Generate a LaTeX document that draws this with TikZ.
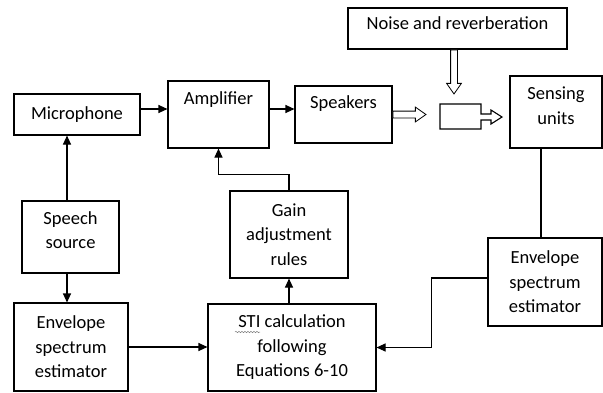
\documentclass[tikz,border=0pt]{standalone}
\usepackage{fontspec}
\setmainfont{Carlito}
\usetikzlibrary{shapes.arrows}
\usetikzlibrary{arrows.meta}
\usetikzlibrary{decorations.pathmorphing}

\newcommand{\lift}[2]{\raisebox{#1}[\height][\depth]{\begin{tabular}{@{}c@{}}#2\end{tabular}}}

\begin{document}
\begin{tikzpicture}[
x=1pt, y=-1pt,
font=\fontsize{18.5pt}{24.5pt}\selectfont,
blk/.style={
draw,
line width=1.1pt,
inner sep=0pt,
align=center
},
conn/.style={
line width=1.1pt,
-{Triangle[length=9pt,width=8pt]}
},
hollow/.style={
draw,
single arrow,
fill=white,
line width=0.8pt,
inner sep=3pt,
single arrow head extend=4pt,
single arrow tip angle=70,
anchor=tail
}
]

\useasboundingbox (0,0) rectangle (603,392);

% top row
\node[blk, minimum width=219pt, minimum height=41pt] (noise) at (457.5,28.5) {\lift{3.5pt}{Noise and reverberation}};
\node[blk, minimum width=126pt, minimum height=41pt] (mic) at (77,114.5) {Microphone};
\node[blk, minimum width=101pt, minimum height=67pt] (amp) at (218.5,114.5) {\lift{14.5pt}{Amplifier}};
\node[blk, minimum width=97pt, minimum height=57pt] (spk) at (343.5,114.5) {\lift{10.5pt}{Speakers}};
\node[blk, minimum width=92pt, minimum height=72pt] (sens) at (556,112) {\lift{5pt}{Sensing\\units}};

% lower rows
\node[blk, minimum width=97pt, minimum height=72pt] (src) at (70.5,237) {\lift{5.5pt}{Speech\\source}};
\node[blk, minimum width=118pt, minimum height=87pt] (gain) at (289,234.5) {Gain\\adjustment\\rules};
\node[blk, minimum width=114pt, minimum height=88pt] (envl) at (71,347) {Envelope\\spectrum\\estimator};
\node[blk, minimum width=168pt, minimum height=87pt] (sti) at (292,347.5) {STI calculation\\following\\Equations 6-10};
\node[blk, minimum width=114pt, minimum height=88pt] (envr) at (545,282) {Envelope\\spectrum\\estimator};

% listener
\draw[line width=1.1pt] (440,104) -- (481,104) -- (481,114) -- (491,114) -- (491,110) -- (502,117)
  -- (491,124) -- (491,120) -- (481,120) -- (481,129) -- (440,129) -- cycle;

% hollow arrows
\node[hollow, minimum height=33pt] (spkout) at (spk.east) {};
\node[hollow, minimum height=44pt, shape border rotate=270] (noisein) at ([xshift=-3.5pt]noise.south) {};

% spell check mark
\draw[decorate, decoration={snake, amplitude=0.7pt, segment length=3pt}, line width=0.5pt, gray] (235,332) -- (260,332);

% connectors
\coordinate (srctop) at ([xshift=-3.5pt]src.north);
\coordinate (srcbot) at ([xshift=-3.5pt]src.south);
\coordinate (envrtop) at ([xshift=-4pt]envr.north);

\draw[conn] ([yshift=5.5pt]mic.east) -- ([yshift=5.5pt]amp.west);
\draw[conn] ([yshift=5.5pt]amp.east) -- ([yshift=5.5pt]spk.west);
\draw[conn] (srctop) -- (srctop |- mic.south);
\draw[conn] (srcbot) -- (srcbot |- envl.north);
\draw[conn] (envl.east) -- (envl.east -| sti.west);
\draw[conn] (sti.north -| gain.south) -- (gain.south);
\draw[conn] (gain.north) -- ++(0,-16) -| (amp.south);
\draw[line width=1.1pt] (envrtop) -- (envrtop |- sens.south);
\draw[conn] ([yshift=4pt]envr.west) -- ++(-56,0) |- (sti.east);

\end{tikzpicture}
\end{document}
